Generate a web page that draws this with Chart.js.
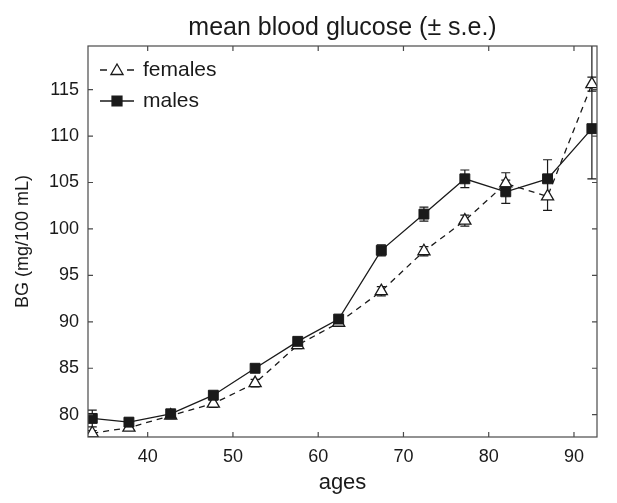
<!DOCTYPE html>
<html><head><meta charset="utf-8">
<script src="https://cdn.jsdelivr.net/npm/chart.js@4.4.0/dist/chart.umd.min.js"></script>
<style>html,body{margin:0;padding:0;background:#fff;}#wrap{width:617px;height:503px;}</style>
</head><body><div id="wrap"><canvas id="c" width="617" height="503"></canvas></div>
<script>
const ages = [33.5, 37.8, 42.7, 47.7, 52.6, 57.6, 62.4, 67.4, 72.4, 77.2, 82.0, 86.9, 92.1];
const females = [78.0, 78.6, 79.9, 81.2, 83.4, 87.5, 89.9, 93.3, 97.6, 100.9, 104.9, 103.5, 115.6];
const femalesErr = [0.3, 0.3, 0.3, 0.4, 0.4, 0.4, 0.4, 0.5, 0.5, 0.6, 1.15, 1.5, 0.75];
const males = [79.6, 79.2, 80.1, 82.1, 85.0, 87.9, 90.3, 97.7, 101.6, 105.4, 104.0, 105.4, 110.8];
const malesErrLow = [0.9, 0.4, 0.4, 0.4, 0.4, 0.4, 0.4, 0.6, 0.75, 0.95, 1.25, 2.05, 5.4];
const malesErrHigh = [0.9, 0.4, 0.4, 0.4, 0.4, 0.4, 0.4, 0.6, 0.75, 0.95, 1.25, 2.05, 9.5];
const xTicks = [40, 50, 60, 70, 80, 90];
const yTicks = [80, 85, 90, 95, 100, 105, 110, 115];
const titleText = 'mean blood glucose (\u00b1 s.e.)';
const xLabel = 'ages';
const yLabel = 'BG (mg/100 mL)';
const legendLabels = ['females', 'males'];

const FONT = "'Liberation Sans', Arial, Helvetica, sans-serif";
const INK = '#1a1a1a';

const errorBars = {
  id: 'errorBars',
  beforeDatasetsDraw(chart) {
    const {ctx, chartArea: a, scales: {x, y}} = chart;
    ctx.save();
    ctx.beginPath(); ctx.rect(a.left, a.top, a.right - a.left, a.bottom - a.top); ctx.clip();
    ctx.strokeStyle = INK; ctx.lineWidth = 1.2; ctx.setLineDash([]);
    const draw = (vals, lo, hi) => {
      vals.forEach((v, i) => {
        const px = x.getPixelForValue(ages[i]);
        const y1 = y.getPixelForValue(v - lo[i]);
        const y2 = y.getPixelForValue(v + hi[i]);
        ctx.beginPath();
        ctx.moveTo(px, y1); ctx.lineTo(px, y2);
        ctx.moveTo(px - 4.5, y1); ctx.lineTo(px + 4.5, y1);
        ctx.moveTo(px - 4.5, y2); ctx.lineTo(px + 4.5, y2);
        ctx.stroke();
      });
    };
    draw(females, femalesErr, femalesErr);
    draw(males, malesErrLow, malesErrHigh);
    ctx.restore();
  }
};

const frame = {
  id: 'frame',
  afterDraw(chart) {
    const {ctx, chartArea: a, scales: {x, y}} = chart;
    ctx.save();
    ctx.strokeStyle = '#4a4a4a'; ctx.lineWidth = 1.2; ctx.setLineDash([]);
    ctx.strokeRect(a.left, a.top, a.right - a.left, a.bottom - a.top);
    ctx.beginPath();
    const L = 5;
    xTicks.forEach(t => {
      const px = x.getPixelForValue(t);
      ctx.moveTo(px, a.bottom); ctx.lineTo(px, a.bottom - L);
      ctx.moveTo(px, a.top); ctx.lineTo(px, a.top + L);
    });
    yTicks.forEach(t => {
      const py = y.getPixelForValue(t);
      ctx.moveTo(a.left, py); ctx.lineTo(a.left + L, py);
      ctx.moveTo(a.right, py); ctx.lineTo(a.right - L, py);
    });
    ctx.stroke();
    // title
    ctx.fillStyle = INK;
    ctx.font = '25px ' + FONT;
    ctx.textAlign = 'center'; ctx.textBaseline = 'alphabetic';
    ctx.fillText(titleText, (a.left + a.right) / 2, 35);
    // legend
    ctx.font = '21px ' + FONT;
    ctx.textAlign = 'left'; ctx.textBaseline = 'middle';
    const rows = [70, 101];
    // females
    ctx.strokeStyle = INK; ctx.lineWidth = 1.3;
    ctx.beginPath();
    ctx.moveTo(100, rows[0]); ctx.lineTo(107, rows[0]);
    ctx.moveTo(127, rows[0]); ctx.lineTo(134, rows[0]);
    ctx.stroke();
    ctx.fillStyle = '#ffffff';
    Chart.helpers.drawPoint(ctx, {pointStyle: 'triangle', radius: 7, borderWidth: 1.3}, 117, rows[0] + 1);
    ctx.fillStyle = INK;
    ctx.fillText(legendLabels[0], 143, rows[0]);
    // males
    ctx.beginPath();
    ctx.moveTo(100, rows[1]); ctx.lineTo(134, rows[1]);
    ctx.stroke();
    ctx.fillStyle = INK;
    Chart.helpers.drawPoint(ctx, {pointStyle: 'rect', radius: 7, borderWidth: 1}, 117, rows[1]);
    ctx.fillStyle = INK;
    ctx.fillText(legendLabels[1], 143, rows[1]);
    ctx.restore();
  }
};

new Chart(document.getElementById('c'), {
  type: 'line',
  data: {
    datasets: [
      {
        label: legendLabels[1],
        data: ages.map((a, i) => ({x: a, y: males[i]})),
        borderColor: INK, borderWidth: 1.3,
        pointStyle: 'rect', pointRadius: 7, pointBackgroundColor: INK, pointBorderColor: INK, pointBorderWidth: 1,
        order: 0, tension: 0
      },
      {
        label: legendLabels[0],
        data: ages.map((a, i) => ({x: a, y: females[i]})),
        borderColor: INK, borderWidth: 1.3, borderDash: [6, 5],
        pointStyle: 'triangle', pointRadius: 7, pointBackgroundColor: '#ffffff', pointBorderColor: INK, pointBorderWidth: 1.3,
        order: 1, tension: 0
      }
    ]
  },
  options: {
    responsive: false,
    animation: false,
    devicePixelRatio: 1,
    layout: {padding: {top: 46, right: 20, left: 0, bottom: 0}},
    plugins: {legend: {display: false}, tooltip: {enabled: false}, title: {display: false}},
    scales: {
      x: {
        type: 'linear', min: 33, max: 92.7,
        afterBuildTicks: s => { s.ticks = xTicks.map(v => ({value: v})); },
        afterFit: s => { s.height = 66; },
        grid: {display: false, drawTicks: false},
        border: {display: false},
        ticks: {color: INK, font: {family: FONT, size: 18}, padding: 9, maxRotation: 0},
        title: {display: true, text: xLabel, color: INK, font: {family: FONT, size: 22}, padding: {top: 0, bottom: 7}}
      },
      y: {
        type: 'linear', min: 77.6, max: 119.7,
        afterBuildTicks: s => { s.ticks = yTicks.map(v => ({value: v})); },
        afterFit: s => { s.width = 88; },
        grid: {display: false, drawTicks: false},
        border: {display: false},
        ticks: {color: INK, font: {family: FONT, size: 18}, padding: 9},
        title: {display: true, text: yLabel, color: INK, font: {family: FONT, size: 18}, padding: {top: 12, bottom: 0}}
      }
    }
  },
  plugins: [errorBars, frame]
});
</script>
</body></html>
